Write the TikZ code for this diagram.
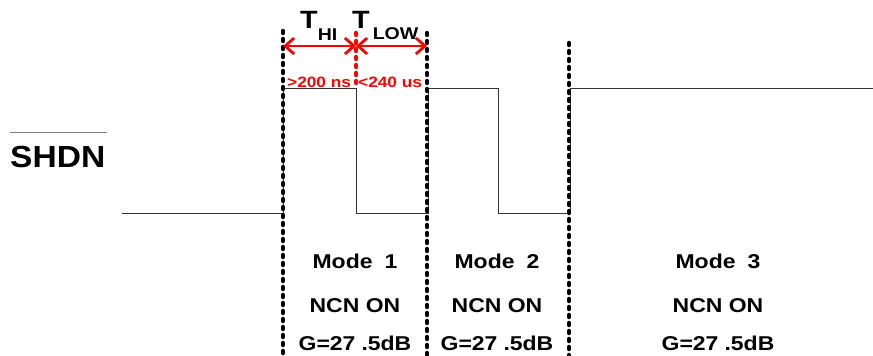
\documentclass[tikz,border=0pt]{standalone}
\usepackage{fontspec}
\setmainfont{Liberation Sans}
\newfontfamily\wide{Liberation Sans}[FakeStretch=1.15]
\newfontfamily\sigfont{Liberation Sans}[FakeStretch=1.1]
\usetikzlibrary{arrows.meta}

\begin{document}
\begin{tikzpicture}[
  x=1pt, y=-1pt,
  wave/.style={black!80, line width=1pt},
  dotline/.style={line width=4.5pt, line cap=round, dash pattern=on 2pt off 6pt},
  span/.style={red, line width=2.8pt, {Straight Barb[length=9pt,width=16pt]}-{Straight Barb[length=9pt,width=16pt]}},
  info/.style={font=\wide\bfseries\fontsize{20}{22}\selectfont, anchor=base, inner sep=0pt},
  tlabel/.style={font=\wide\bfseries\fontsize{25}{25}\selectfont, anchor=base west, inner sep=0pt},
  limit/.style={red, font=\wide\bfseries\fontsize{15}{16}\selectfont, anchor=base west, inner sep=0pt}
]
\useasboundingbox (0,0) rectangle (873,356);

% SHDN input waveform
\draw[wave] (122,213) -- (283,213) -- (283,88) -- (356,88) -- (356,213)
  -- (428,213) -- (428,88) -- (498,88) -- (498,213) -- (570,213)
  -- (570,88) -- (873,88);

% mode borders
\draw[dotline] (283,31) -- (283,356);
\draw[dotline] (427,33) -- (427,356);
\draw[dotline] (569,43) -- (569,356);
\draw[dotline, red] (356,33) -- (356,84);

% timing
\coordinate (s0) at (283,46);
\coordinate (s1) at (356,46);
\coordinate (s2) at (427,46);
\draw[span] (s0) -- (s1);
\draw[span] (s1) -- (s2);

\node[tlabel] (thi) at (300,28) {T\raisebox{-12pt}{\fontsize{17}{17}\selectfont HI}};
\node[tlabel] (tlow) at (352,28) {T\hspace{3pt}\raisebox{-11pt}{\fontsize{17}{17}\selectfont LOW}};
\node[limit] (hi200) at (287,87) {>200 ns};
\node[limit] (low240) at (358,87) {<240 us};

% signal name
\node[font=\sigfont\bfseries\fontsize{30.5}{32}\selectfont, anchor=base west, inner sep=0pt] (shdn) at (10,167) {SHDN};
\draw[gray, line width=1.5pt] ([yshift=13pt]shdn.west |- shdn.north) -- ([yshift=13pt,xshift=2pt]shdn.north east);

% modes
\foreach \n/\x in {1/355,2/497,3/718} {
  \node[info] (mode\n) at (\x,268) {Mode\hspace{0.6em}\n};
  \node[info] (ncn\n) at (\x,312) {NCN ON};
  \node[info] (gain\n) at (\x,350) {G=27\hspace{0.3em}.5dB};
}
\end{tikzpicture}
\end{document}
